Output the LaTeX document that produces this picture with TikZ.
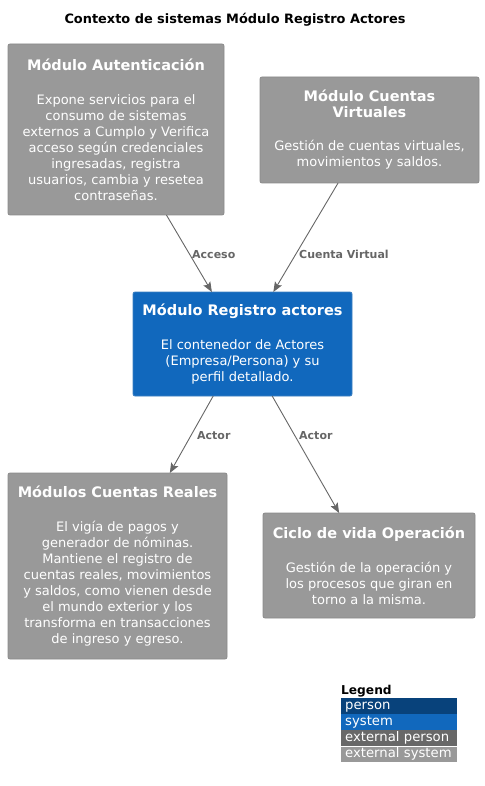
\documentclass[tikz,border=0pt]{standalone}
\usepackage{fontspec}
\setmainfont{DejaVu Sans}
\usetikzlibrary{arrows.meta}
\definecolor{extgray}{HTML}{999999}
\definecolor{extborder}{HTML}{8A8A8A}
\definecolor{sysblue}{HTML}{1168BD}
\definecolor{sysborder}{HTML}{3C7FC0}
\definecolor{personblue}{HTML}{08427B}
\definecolor{extperson}{HTML}{686868}
\definecolor{edgegray}{HTML}{666666}
\newcommand{\bodyfnt}{\fontsize{13}{16}\selectfont}
\newcommand{\ttlfnt}{\bfseries\fontsize{14.5}{19}\selectfont}
\tikzset{
  boxbase/.style={rectangle, rounded corners=2pt, text=white, align=center,
    inner sep=0pt, outer sep=0pt, line width=0.8pt, font=\bodyfnt},
  extbox/.style={boxbase, fill=extgray, draw=extborder},
  sysbox/.style={boxbase, fill=sysblue, draw=sysborder},
  rel/.style={draw=edgegray, line width=0.9pt, -{Stealth[length=10pt,width=8pt,inset=2pt]}},
  lbl/.style={text=edgegray, font=\bfseries\fontsize{11}{13}\selectfont, anchor=base west, inner sep=0pt},
  legbar/.style={rectangle, anchor=north west, minimum width=116pt, minimum height=15.5pt,
    text width=108pt, inner xsep=4pt, inner ysep=0pt, align=left, text=white,
    text height=10pt, text depth=3pt,
    font=\fontsize{13.2}{14}\selectfont}
}
\begin{document}
\begin{tikzpicture}[x=1pt,y=-1pt]
\useasboundingbox (0,0) rectangle (484,786);

\node[anchor=base, inner sep=0pt, font=\bfseries\fontsize{12.9}{15}\selectfont] (title) at (235,24)
  {Contexto de sistemas Módulo Registro Actores};

\node[extbox, minimum width=216pt, minimum height=171pt] (aut) at (116,129.5)
  {{\ttlfnt Módulo Autenticación}\\[18pt]
   Expone servicios para el\\ consumo de sistemas\\ externos a Cumplo y Verifica\\
   acceso según credenciales\\ ingresadas, registra\\ usuarios, cambia y resetea\\ contraseñas.};

\node[extbox, minimum width=219pt, minimum height=106pt] (virt) at (369.5,130)
  {{\ttlfnt Módulo Cuentas}\\{\ttlfnt Virtuales}\\[17pt]
   Gestión de cuentas virtuales,\\ movimientos y saldos.};

\node[sysbox, minimum width=219pt, minimum height=104pt] (reg) at (242.5,344)
  {{\ttlfnt Módulo Registro actores}\\[18pt]
   El contenedor de Actores\\ (Empresa/Persona) y su\\ perfil detallado.};

\node[extbox, minimum width=219pt, minimum height=186pt] (real) at (117.5,566)
  {{\ttlfnt Módulos Cuentas Reales}\\[18pt]
   El vigía de pagos y\\ generador de nóminas.\\ Mantiene el registro de\\
   cuentas reales, movimientos\\ y saldos, como vienen desde\\ el mundo exterior y los\\
   transforma en transacciones\\ de ingreso y egreso.};

\node[extbox, minimum width=212pt, minimum height=105pt] (ciclo) at (369,565.5)
  {{\ttlfnt Ciclo de vida Operación}\\[18pt]
   Gestión de la operación y\\ los procesos que giran en\\ torno a la misma.};

\draw[rel] (aut) -- (reg);
\draw[rel] (virt) -- (reg);
\draw[rel] (reg) -- (real);
\draw[rel] (reg) -- (ciclo);

\node[lbl] (l1) at (192,258) {Acceso};
\node[lbl] (l2) at (299,258) {Cuenta Virtual};
\node[lbl] (l3) at (197,439) {Actor};
\node[lbl] (l4) at (299,439) {Actor};

\node[anchor=base west, inner sep=0pt, font=\bfseries\fontsize{12.2}{14}\selectfont] (leg) at (341,694) {Legend};
\node[legbar, fill=personblue] (lg1) at (341,698) {person};
\node[legbar, fill=sysblue] (lg2) at (341,714) {system};
\node[legbar, fill=extperson] (lg3) at (341,730) {external person};
\node[legbar, fill=extgray] (lg4) at (341,746.5) {external system};
\end{tikzpicture}
\end{document}
